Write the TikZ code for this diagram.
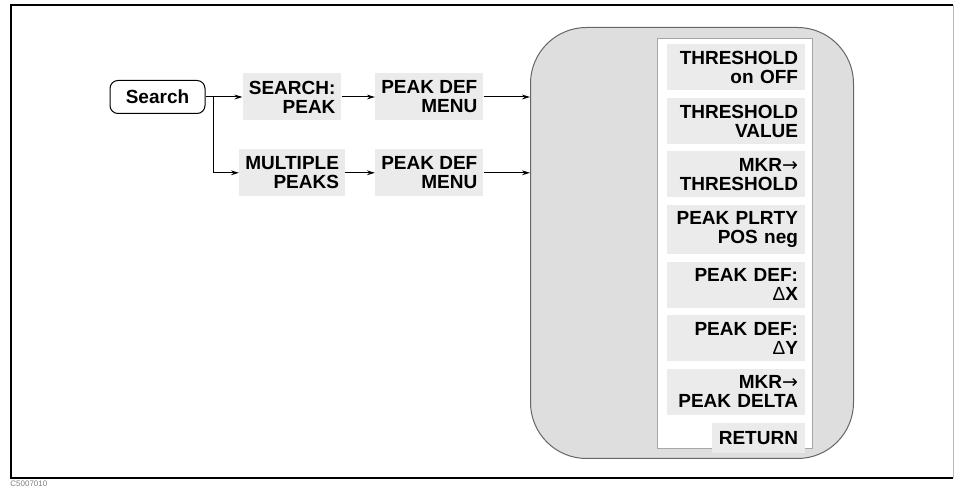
\documentclass[tikz,border=0pt]{standalone}
\usepackage{fontspec}
\setmainfont{Liberation Sans}
\newfontfamily\arrowfont{DejaVu Sans}
\usepackage{tikz}
\usetikzlibrary{positioning, arrows.meta}
\usepackage{xcolor}
\definecolor{menugray}{gray}{0.87}
\definecolor{keygray}{gray}{0.92}
\newcommand{\mkrto}{{\arrowfont\mdseries →}}

\begin{document}
\begin{tikzpicture}[
    x=0.5pt, y=0.5pt,
    every node/.style={font=\fontsize{9.5}{9.5}\selectfont\bfseries},
    hardkey/.style={draw, line width=0.5pt, rounded corners=4pt, fill=white,
                    minimum width=47.5pt, minimum height=16.5pt},
    menukey/.style={fill=keygray, align=right, inner xsep=3pt,
                    minimum height=23.5pt},
    fkey/.style={fill=keygray, align=right, text width=62pt,
                 inner xsep=3.5pt, minimum height=23pt},
    menubg/.style={draw=gray!80!black, line width=0.5pt, fill=menugray,
                   rounded corners=28pt},
    panel/.style={draw=gray!70, line width=0.5pt, fill=white},
    arr/.style={-{Stealth[length=4pt, width=2.4pt]}, line width=0.5pt}
  ]
    \useasboundingbox (0,0) rectangle (955,-486);
    \draw[line width=1pt] (953,-5.5) -- (10.5,-5.5) -- (10.5,-478.5) -- (953,-478.5);
    \draw[gray!55, line width=0.4pt] (953,-5.5) -- (953,-478.5);
    \node[font=\fontsize{4}{4}\selectfont, text=gray, anchor=north west,
          inner sep=0pt] (figid) at (10,-481) {C5007010};

    \node[hardkey] (search) at (157.5,-97) {Search};
    \node[menukey, right=18.5pt of search] (srchpeak) {SEARCH:\\PEAK};
    \node[menukey, right=16.5pt of srchpeak] (pkdef1) {PEAK DEF\\MENU};
    \node[menukey, below=14pt of srchpeak] (multpk) {MULTIPLE\\PEAKS};
    \node[menukey, below=14pt of pkdef1] (pkdef2) {PEAK DEF\\MENU};

    \node[menubg, anchor=north west, minimum width=161.5pt,
          minimum height=215.5pt] (menu) at (530,-27) {};
    \node[panel, anchor=north west, minimum width=77.5pt,
          minimum height=205pt] (keypanel) at (657,-38) {};

    \node[fkey] (k1) at (736,-67.5) {THRESHOLD\\on OFF};
    \node[fkey, below=3.35pt of k1] (k2) {THRESHOLD\\VALUE};
    \node[fkey, below=3.35pt of k2] (k3) {MKR\mkrto\\THRESHOLD};
    \node[fkey, below=3.35pt of k3] (k4) {PEAK PLRTY\\POS neg};
    \node[fkey, below=3.35pt of k4] (k5) {PEAK DEF:\\{\mdseries Δ}X};
    \node[fkey, below=3.35pt of k5] (k6) {PEAK DEF:\\{\mdseries Δ}Y};
    \node[fkey, below=3.35pt of k6] (k7) {MKR\mkrto\\PEAK DELTA};
    \node[fill=keygray, inner xsep=3.5pt, minimum height=15pt,
          below left=3.5pt and 0pt of k7.south east] (k8) {RETURN};

    \coordinate (split) at ([xshift=4pt]search.east);
    \draw[arr] (search) -- (srchpeak);
    \draw[arr] (split) |- (multpk);
    \draw[arr] (srchpeak) -- (pkdef1);
    \draw[arr] (multpk) -- (pkdef2);
    \draw[arr] (pkdef1) -- (pkdef1 -| menu.west);
    \draw[arr] (pkdef2) -- (pkdef2 -| menu.west);
  \end{tikzpicture}
\end{document}
